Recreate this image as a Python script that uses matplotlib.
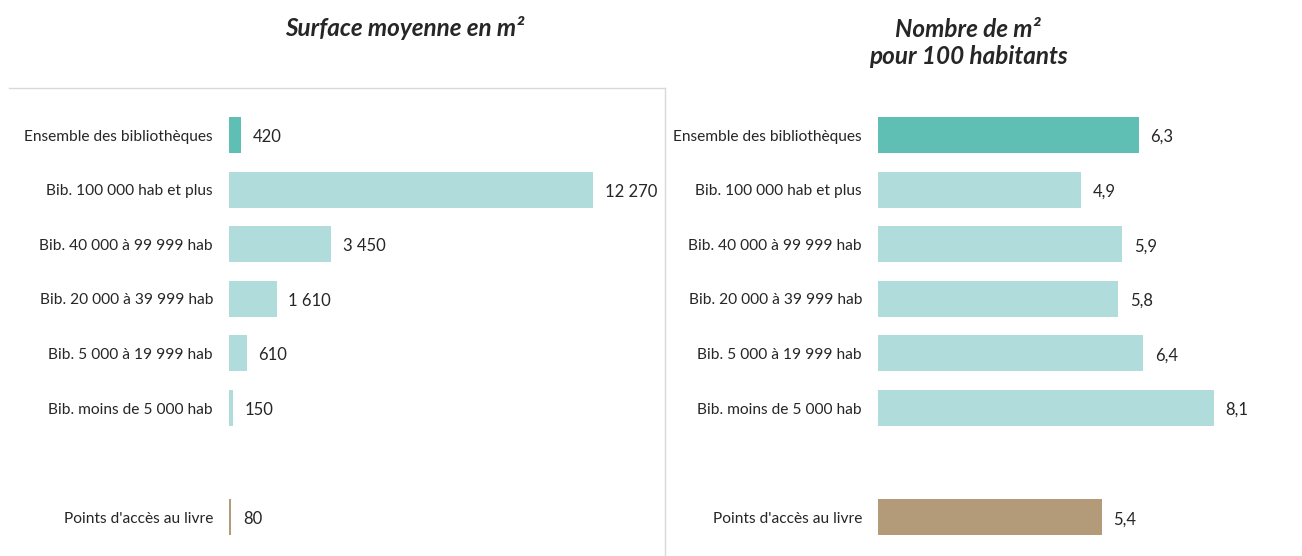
import matplotlib.pyplot as plt
from matplotlib.lines import Line2D

plt.rcParams['font.family'] = ['Lato', 'DejaVu Sans']

categories = ["Ensemble des bibliothèques", "Bib. 100 000 hab et plus",
              "Bib. 40 000 à 99 999 hab", "Bib. 20 000 à 39 999 hab",
              "Bib. 5 000 à 19 999 hab", "Bib. moins de 5 000 hab",
              "Points d'accès au livre"]
positions = [0, 1, 2, 3, 4, 5, 7]
surface = [420, 12270, 3450, 1610, 610, 150, 80]
m2_per_100 = [6.3, 4.9, 5.9, 5.8, 6.4, 8.1, 5.4]
colors = ["#5fbfb4"] + ["#b0dcdc"] * 5 + ["#b39a78"]

W, H = 1302, 556
fig = plt.figure(figsize=(W / 100, H / 100), dpi=100)

row_px = 54.6
y0_px = 135
top_px, bot_px = 88, 556
ylim = ((bot_px - y0_px) / row_px, -(y0_px - top_px) / row_px)


def make_ax(left_px, right_px, px_per_unit):
    ax = fig.add_axes([left_px / W, 0, (right_px - left_px) / W, (H - top_px) / H])
    ax.set_xlim(0, (right_px - left_px) / px_per_unit)
    ax.set_ylim(*ylim)
    for s in ax.spines.values():
        s.set_visible(False)
    ax.set_xticks([])
    ax.set_yticks(positions)
    ax.set_yticklabels(categories, fontsize=11.2, color="#262626")
    ax.tick_params(axis='y', length=0, pad=11.5)
    return ax


# left panel
ax1 = make_ax(229, 665, 364 / 12270)
ax1.barh(positions, surface, height=0.66, color=colors)
for p, v in zip(positions, surface):
    ax1.annotate(f"{v:,}".replace(",", " "), (v, p), xytext=(8.3, -1.5),
                 textcoords="offset points", va="center", fontsize=12, color="#262626")
fig.text(405 / W, 1 - 28 / H, "Surface moyenne en m²", ha="center", va="center",
         fontsize=17.5, fontweight="bold", fontstyle="italic", color="#262626")

# right panel
ax2 = make_ax(878, 1302, 261 / 6.3)
ax2.barh(positions, m2_per_100, height=0.66, color=colors)
for p, v in zip(positions, m2_per_100):
    ax2.annotate(f"{v:.1f}".replace(".", ","), (v, p), xytext=(8.3, -1.5),
                 textcoords="offset points", va="center", fontsize=12, color="#262626")
fig.text(968 / W, 1 - 43 / H, "Nombre de m²\npour 100 habitants", ha="center", va="center",
         fontsize=17.5, fontweight="bold", fontstyle="italic", color="#262626",
         linespacing=1.2)

# frame around left panel
fig.add_artist(Line2D([9 / W, 665 / W], [1 - 88 / H, 1 - 88 / H], color="#d9d9d9", lw=1))
fig.add_artist(Line2D([665 / W, 665 / W], [1 - 88 / H, 0], color="#d9d9d9", lw=1))

fig.savefig("out.png", dpi=100)
